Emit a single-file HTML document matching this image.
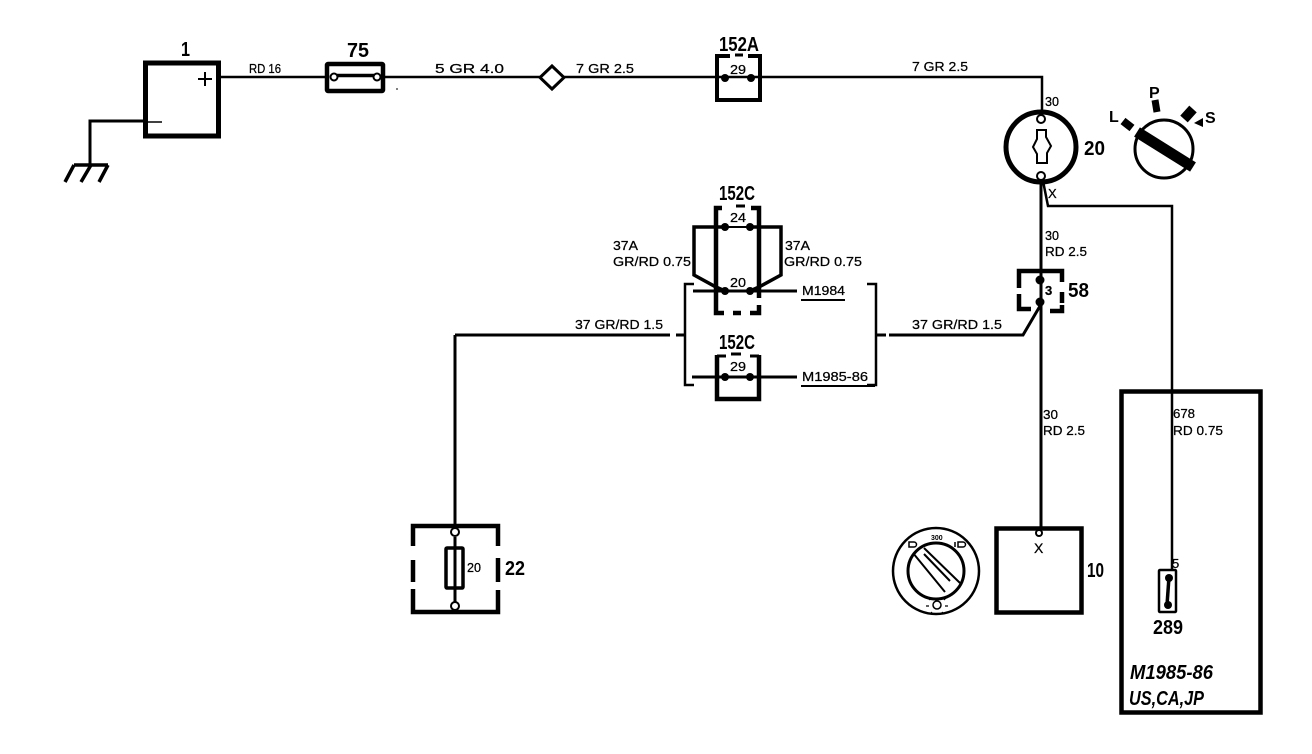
<!DOCTYPE html>
<html><head><meta charset="utf-8"><style>
html,body{margin:0;padding:0;background:#fff}
svg{display:block}
text{font-family:"Liberation Sans",sans-serif;fill:#000}
.s{font-size:13px;stroke:#000;stroke-width:.25px}
.b{font-size:20px;font-weight:bold}
.i{font-size:20px;font-weight:bold;font-style:italic}
</style></head><body>
<svg width="1312" height="754" viewBox="0 0 1312 754" xmlns="http://www.w3.org/2000/svg">
<g fill="none" stroke="#000" stroke-width="2.500">
<!-- battery -->
<rect x="145.500" y="63" width="73" height="73" stroke-width="5"/>
<path d="M198 79H212M205 72V86" stroke-width="2"/>
<path d="M147 122H162" stroke-width="1.500"/>
<path d="M145 121H90V165" stroke-width="3"/>
<path d="M74 165H108" stroke-width="3.500"/>
<path d="M74 165L65 182M91 165L81 182M108 165L99 182" stroke-width="3.500"/>
<path d="M220 77H325"/>
<!-- fuse 75 -->
<rect x="327" y="64" width="56" height="27" rx="1" stroke-width="4.500"/>
<path d="M337 75.500H374" stroke-width="3.500"/>
<circle cx="334" cy="77" r="3.500" fill="#fff" stroke-width="2"/>
<circle cx="377" cy="77" r="3.500" fill="#fff" stroke-width="2"/>
<path d="M385 77H540M564 77H1042V116"/>
<path d="M396 89H398" stroke-width="1"/>
<path d="M552 66L564 77.500L552 89L540 77.500Z" stroke-width="3"/>
<!-- 152A -->
<path d="M730 56H717V100H760V56H748" stroke-width="4"/>
<path d="M735 55H743" stroke-width="3"/>
<circle cx="725" cy="78" r="4" fill="#000" stroke="none"/>
<circle cx="751" cy="78" r="4" fill="#000" stroke="none"/>
<!-- ignition 20 -->
<circle cx="1041" cy="147" r="35" stroke-width="5"/>
<circle cx="1041" cy="119" r="4" fill="#fff" stroke-width="2"/>
<circle cx="1041" cy="176" r="4" fill="#fff" stroke-width="2"/>
<path d="M1037 130H1046V137L1051 146L1047 153V163H1037V154L1033 147L1037 139Z" stroke-width="2"/>
<path d="M1041 181V530" stroke-width="3"/>
<path d="M1043 181L1048 206H1172V570" stroke-width="2.500"/>
<!-- key switch -->
<circle cx="1164" cy="149" r="29" stroke-width="3"/>
<path d="M1137 132L1193 167" stroke-width="11"/>
<path d="M1123 121L1132 128" stroke-width="8"/>
<path d="M1155 100L1157 112" stroke-width="7"/>
<path d="M1184 119L1193 109" stroke-width="10"/>
<path d="M1194 123L1203 118V127Z" fill="#000" stroke="none"/>
<!-- 152C upper -->
<path d="M722 208H716V313H724M733 313H741M750 313H759V305M759 298V208H751" stroke-width="4.500"/>
<path d="M736 206H745" stroke-width="3"/>
<path d="M725 227H694V275L716 287L725 291" stroke-width="3.500"/>
<path d="M750 227H781V275L759 287L750 291" stroke-width="3.500"/>
<path d="M725 227H750" stroke-width="2"/>
<path d="M693 291H797" stroke-width="3"/>
<circle cx="725" cy="227" r="4" fill="#000" stroke="none"/>
<circle cx="750" cy="227" r="4" fill="#000" stroke="none"/>
<circle cx="725" cy="291" r="4" fill="#000" stroke="none"/>
<circle cx="750" cy="291" r="4" fill="#000" stroke="none"/>
<path d="M801 300H845" stroke-width="2"/>
<!-- brackets -->
<path d="M694 284H685V385H694" stroke-width="2.500"/>
<path d="M867 284H876V385H867" stroke-width="2.500"/>
<path d="M455 335H670M676 335H685M876 335H886M889 335H1023L1040 306" stroke-width="3"/>
<!-- 152C lower -->
<path d="M717 355V399H759V355" stroke-width="4.500"/>
<path d="M717 356H726M750 356H759M731 354H741" stroke-width="3"/>
<path d="M692 377H797" stroke-width="3"/>
<circle cx="725" cy="377" r="4" fill="#000" stroke="none"/>
<circle cx="750" cy="377" r="4" fill="#000" stroke="none"/>
<path d="M801 386H875" stroke-width="2"/>
<!-- 58 -->
<path d="M1019 288V271H1062V282M1062 292V303M1019 294V309H1031M1050 311H1062V305" stroke-width="4.500"/>
<circle cx="1040" cy="280" r="4.500" fill="#000" stroke="none"/>
<circle cx="1040" cy="302" r="4.500" fill="#000" stroke="none"/>
<!-- 22 -->
<path d="M455 335V525" stroke-width="3"/>
<path d="M413 546V526H498V546M413 560V582M498 558V582M413 589V612H498V590" stroke-width="4.500"/>
<rect x="446" y="548" width="17" height="40" rx="1" stroke-width="3.500"/>
<path d="M455 537V607" stroke-width="3"/>
<circle cx="455" cy="532" r="4" fill="#fff" stroke-width="2"/>
<circle cx="455" cy="606" r="4" fill="#fff" stroke-width="2"/>
<!-- headlight switch -->
<circle cx="936" cy="571" r="43" stroke-width="2.500"/>
<circle cx="936" cy="571" r="28" stroke-width="3"/>
<path d="M924 548L960 583M913 553L945 592M924 554L950 581" stroke-width="2"/>
<circle cx="937" cy="605" r="4" stroke-width="1.500"/>
<path d="M930 600L928 598M944 600L946 598M929 606H926M945 606H948M932 612L930 614M942 612L944 614" stroke-width="1.200"/>
<path d="M909 542H914A2.500 2.500 0 0 1 914 547H909Z" stroke-width="1.500"/>
<path d="M958 542H963A2.500 2.500 0 0 1 963 547H958ZM955 542V547" stroke-width="1.500"/>
<!-- box 10 -->
<rect x="996.500" y="528.500" width="85" height="84" stroke-width="4.500"/>
<circle cx="1039" cy="533" r="3" fill="#fff" stroke-width="2"/>
<!-- big box -->
<rect x="1121.500" y="391.500" width="139" height="321" stroke-width="4.500"/>
<!-- fuse 289 -->
<rect x="1159" y="570" width="17" height="42" rx="1" stroke-width="2.500"/>
<path d="M1169 577L1167 605" stroke-width="3.500"/>
<circle cx="1169" cy="578" r="4" fill="#000" stroke="none"/>
<circle cx="1168" cy="605" r="4" fill="#000" stroke="none"/>
</g>
<text class="b" x="181" y="56" textLength="9" lengthAdjust="spacingAndGlyphs">1</text>
<text class="b" x="347" y="57" textLength="22" lengthAdjust="spacingAndGlyphs">75</text>
<text class="b" x="719" y="51" textLength="40" lengthAdjust="spacingAndGlyphs">152A</text>
<text class="b" x="719" y="200" textLength="36" lengthAdjust="spacingAndGlyphs">152C</text>
<text class="b" x="719" y="349" textLength="36" lengthAdjust="spacingAndGlyphs">152C</text>
<text class="b" x="1084" y="155" textLength="21" lengthAdjust="spacingAndGlyphs">20</text>
<text class="b" x="1068" y="297" textLength="21" lengthAdjust="spacingAndGlyphs">58</text>
<text class="b" x="505" y="575" textLength="20" lengthAdjust="spacingAndGlyphs">22</text>
<text class="b" x="1087" y="577" textLength="17" lengthAdjust="spacingAndGlyphs">10</text>
<text class="b" x="1153" y="634" textLength="30" lengthAdjust="spacingAndGlyphs">289</text>
<text class="s" x="249" y="73" textLength="32" lengthAdjust="spacingAndGlyphs">RD 16</text>
<text class="s" x="435" y="73" textLength="69" lengthAdjust="spacingAndGlyphs">5 GR 4.0</text>
<text class="s" x="576" y="73" textLength="58" lengthAdjust="spacingAndGlyphs">7 GR 2.5</text>
<text class="s" x="912" y="71" textLength="56" lengthAdjust="spacingAndGlyphs">7 GR 2.5</text>
<text class="s" x="730" y="74" textLength="16" lengthAdjust="spacingAndGlyphs">29</text>
<text class="s" x="1045" y="106" textLength="14" lengthAdjust="spacingAndGlyphs">30</text>
<text class="s" x="1048" y="198">X</text>
<text class="b" x="1109" y="122" style="font-size:16px">L</text>
<text class="b" x="1149" y="98" style="font-size:16px">P</text>
<text class="b" x="1205" y="123" style="font-size:16px">S</text>
<text class="s" x="730" y="222" textLength="16" lengthAdjust="spacingAndGlyphs">24</text>
<text class="s" x="730" y="287" textLength="16" lengthAdjust="spacingAndGlyphs">20</text>
<text class="s" x="730" y="371" textLength="16" lengthAdjust="spacingAndGlyphs">29</text>
<text class="s" x="613" y="250" textLength="25" lengthAdjust="spacingAndGlyphs">37A</text>
<text class="s" x="613" y="266" textLength="78" lengthAdjust="spacingAndGlyphs">GR/RD 0.75</text>
<text class="s" x="785" y="250" textLength="25" lengthAdjust="spacingAndGlyphs">37A</text>
<text class="s" x="784" y="266" textLength="78" lengthAdjust="spacingAndGlyphs">GR/RD 0.75</text>
<text class="s" x="802" y="295" textLength="43" lengthAdjust="spacingAndGlyphs">M1984</text>
<text class="s" x="802" y="381" textLength="66" lengthAdjust="spacingAndGlyphs">M1985-86</text>
<text class="s" x="575" y="329" textLength="88" lengthAdjust="spacingAndGlyphs">37 GR/RD 1.5</text>
<text class="s" x="912" y="329" textLength="90" lengthAdjust="spacingAndGlyphs">37 GR/RD 1.5</text>
<text class="s" x="1045" y="240" textLength="14" lengthAdjust="spacingAndGlyphs">30</text>
<text class="s" x="1045" y="256" textLength="42" lengthAdjust="spacingAndGlyphs">RD 2.5</text>
<text class="s" x="1045" y="295" font-weight="bold">3</text>
<text class="s" x="1043" y="419" textLength="15" lengthAdjust="spacingAndGlyphs">30</text>
<text class="s" x="1043" y="435" textLength="42" lengthAdjust="spacingAndGlyphs">RD 2.5</text>
<text class="s" x="1173" y="418" textLength="22" lengthAdjust="spacingAndGlyphs">678</text>
<text class="s" x="1173" y="435" textLength="50" lengthAdjust="spacingAndGlyphs">RD 0.75</text>
<text class="s" x="1172" y="568">5</text>
<text class="s" x="467" y="572" textLength="14" lengthAdjust="spacingAndGlyphs">20</text>
<text class="s" x="1034" y="553" style="font-size:14px">X</text>
<text x="931" y="540" style="font-size:7px;font-weight:bold">300</text>
<text class="i" x="1130" y="679" textLength="83" lengthAdjust="spacingAndGlyphs">M1985-86</text>
<text class="i" x="1129" y="705" textLength="75" lengthAdjust="spacingAndGlyphs">US,CA,JP</text>
</svg>
</body></html>
